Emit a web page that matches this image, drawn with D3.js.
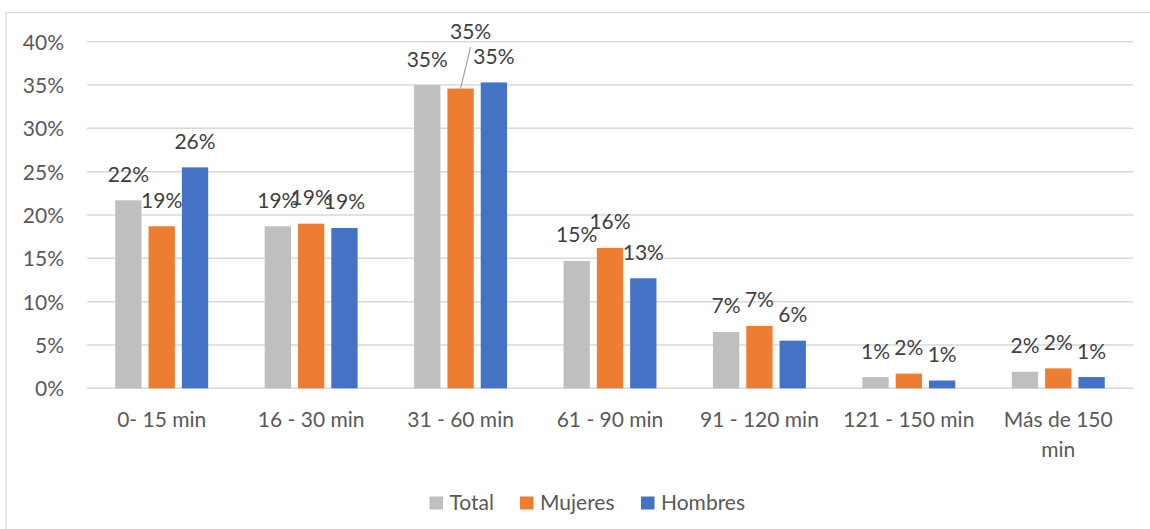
<!DOCTYPE html>
<html><head><meta charset="utf-8">
<script src="https://cdn.jsdelivr.net/npm/d3@7"></script>
<style>
html,body{margin:0;padding:0;background:#fff;}
svg{display:block;font-family:Lato, "Open Sans", sans-serif;}
</style></head>
<body>
<svg id="chart" width="1150" height="529"></svg>
<script>
const categories = ["0- 15 min","16 - 30 min","31 - 60 min","61 - 90 min","91 - 120 min","121 - 150 min","Más de 150 min"];
const seriesNames = ["Total","Mujeres","Hombres"];
const totalValues   = [0.217,0.187,0.350,0.147,0.065,0.013,0.019];
const mujeresValues = [0.187,0.190,0.346,0.162,0.072,0.017,0.023];
const hombresValues = [0.255,0.185,0.353,0.127,0.055,0.009,0.013];
const yTicks = [0,0.05,0.10,0.15,0.20,0.25,0.30,0.35,0.40];
const colors = ["#BFBFBF","#ED7D31","#4472C4"];

// layout tweaks for labels that Excel moved (category index, series index) -> shift
const labelMoves = [{c:2, s:1, dx:10, dy:-31}];

const values = [totalValues, mujeresValues, hombresValues];
const svg = d3.select("#chart");

// chart border
svg.append("rect").attr("x",6).attr("y",12.5).attr("width",1200).attr("height",600)
  .attr("fill","none").attr("stroke","#D9D9D9").attr("stroke-width",1.2);

const x0 = d3.scaleBand().domain(categories).range([87,1133]).padding(0);
const x1 = d3.scaleBand().domain(seriesNames).range([0,x0.bandwidth()]).paddingInner(0.21).paddingOuter(0.848);
const y = d3.scaleLinear().domain([0,0.4]).range([388.3,41.7]);
const fmt = d3.format(".0%");

// gridlines
svg.append("g").selectAll("line").data(yTicks).join("line")
  .attr("x1",87).attr("x2",1133).attr("y1",d=>y(d)).attr("y2",d=>y(d))
  .attr("stroke","#D9D9D9").attr("stroke-width",1.5);

// y axis labels
const yAxis = d3.axisLeft(y).tickValues(yTicks).tickFormat(fmt).tickSize(0).tickPadding(0);
const ya = svg.append("g").attr("transform","translate(64,0)").call(yAxis);
ya.select(".domain").remove();
ya.selectAll("text").attr("font-size",21).attr("fill","#595959").attr("font-family","Lato").attr("dy","0.36em");

// bars
const groups = svg.append("g").selectAll("g").data(categories).join("g")
  .attr("transform",d=>`translate(${x0(d)},0)`);
groups.selectAll("rect").data((c,ci)=>seriesNames.map((s,si)=>({c:ci,s:si,name:s,v:values[si][ci]})))
  .join("rect")
  .attr("x",d=>x1(d.name)).attr("width",x1.bandwidth())
  .attr("y",d=>y(d.v)).attr("height",d=>y(0)-y(d.v))
  .attr("fill",d=>colors[d.s]);

// data labels
const labelData = [];
categories.forEach((c,ci)=>seriesNames.forEach((s,si)=>{
  const v = values[si][ci];
  const cx = x0(c)+x1(s)+x1.bandwidth()/2;
  const by = y(v);
  const mv = labelMoves.find(m=>m.c===ci&&m.s===si);
  labelData.push({v, cx, by, tx: cx+(mv?mv.dx:0), ty: by-18.5+(mv?mv.dy:0), moved: !!mv});
}));
svg.append("g").selectAll("line").data(labelData.filter(d=>d.moved)).join("line")
  .attr("x1",d=>d.cx).attr("y1",d=>d.by)
  .attr("x2",d=>d.tx).attr("y2",d=>d.ty+8)
  .attr("stroke","#A6A6A6").attr("stroke-width",1.2);
svg.append("g").selectAll("text").data(labelData).join("text")
  .attr("x",d=>d.tx).attr("y",d=>d.ty)
  .attr("text-anchor","middle").attr("font-size",21).attr("fill","#404040")
  .text(d=>fmt(d.v));

// x axis labels (wrap when wider than the category band)
const xl = svg.append("g").selectAll("text").data(categories).join("text")
  .attr("x",d=>x0(d)+x0.bandwidth()/2).attr("y",426.5)
  .attr("text-anchor","middle").attr("font-size",21).attr("fill","#595959");
xl.each(function(d){
  const t = d3.select(this);
  const cx = x0(d)+x0.bandwidth()/2;
  t.text(d);
  if (this.getComputedTextLength() > x0.bandwidth()-12) {
    const words = d.split(" ");
    t.text(null);
    t.append("tspan").attr("x",cx).attr("dy",0).text(words.slice(0,-1).join(" "));
    t.append("tspan").attr("x",cx).attr("dy",30).text(words[words.length-1]);
  }
});

// legend
const legendX = [429.5, 520, 641];
const lg = svg.append("g").selectAll("g").data(seriesNames).join("g")
  .attr("transform",(d,i)=>`translate(${legendX[i]},0)`);
lg.append("rect").attr("x",0).attr("y",496.5).attr("width",13.5).attr("height",13).attr("fill",(d,i)=>colors[i]);
lg.append("text").attr("x",20).attr("y",510).attr("font-size",21).attr("fill","#595959").text(d=>d);
</script>
</body></html>
